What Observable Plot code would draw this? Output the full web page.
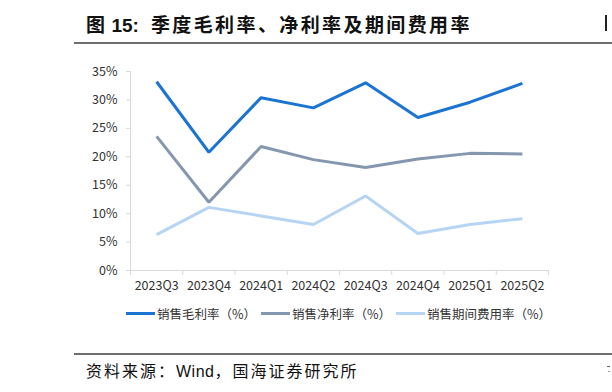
<!DOCTYPE html>
<html>
<head>
<meta charset="utf-8">
<script src="https://cdn.jsdelivr.net/npm/d3@7"></script>
<script src="https://cdn.jsdelivr.net/npm/@observablehq/plot@0.6"></script>
<style>
  html, body { margin: 0; padding: 0; background: #fff; }
  #page { position: relative; width: 612px; height: 392px; overflow: hidden; font-family: "Noto Sans CJK SC", "Noto Sans", sans-serif; }
  .title { position: absolute; left: 86px; top: 10px; font-size: 19px; font-weight: 700; color: #111; white-space: nowrap; letter-spacing: 2.4px; }
  .title .num { font-family: "Liberation Sans", Arial, sans-serif; font-weight: 700; letter-spacing: 0; margin-left: 4px; margin-right: 12px; }
  .rule { position: absolute; left: 74px; width: 560px; height: 2px; background: #6e6e6e; }
  .footer { position: absolute; left: 86px; top: 358px; font-size: 16px; color: #111; white-space: nowrap; letter-spacing: 2px; }
  .footer .w { font-family: "Liberation Sans", Arial, sans-serif; letter-spacing: 0.5px; }
  .stub { position: absolute; background: #222; }
  #chart { position: absolute; left: 0; top: 50px; }
  .legend { position: absolute; left: 126px; top: 304px; display: flex; align-items: center; font-size: 12.5px; color: #333; white-space: nowrap; }
  .legend .item { display: flex; align-items: center; margin-right: 5px; }
  .legend .sw { width: 29px; height: 3px; margin-right: 2px; }
</style>
</head>
<body>
<div id="page">
  <div class="title">图<span class="num">15:</span>季度毛利率、净利率及期间费用率</div>
  <div class="stub" style="left:605px; top:15px; width:2px; height:16px;"></div>
  <div class="rule" style="top:42px;"></div>
  <div id="chart"></div>
  <div class="legend" id="legend"></div>
  <div class="rule" style="top:353px;"></div>
  <div class="footer">资料来源：<span class="w">Wind</span>，国海证券研究所</div>
  <div class="stub" style="left:607px; top:366px; width:3px; height:1px; background:#666;"></div>
  <div class="stub" style="left:608px; top:371px; width:2px; height:1px; background:#999;"></div>
</div>
<script>
const quarters = ["2023Q3", "2023Q4", "2024Q1", "2024Q2", "2024Q3", "2024Q4", "2025Q1", "2025Q2"];
const grossMargin = [33.2, 20.8, 30.4, 28.6, 33.0, 26.9, 29.6, 32.9];
const netMargin   = [23.6, 12.0, 21.8, 19.5, 18.1, 19.6, 20.6, 20.5];
const expenseRate = [6.3, 11.1, 9.6, 8.1, 13.1, 6.5, 8.1, 9.1];
const seriesNames = ["销售毛利率（%）", "销售净利率（%）", "销售期间费用率（%）"];
const seriesColors = ["#1b74d3", "#8596af", "#b6d5f5"];
const yTicks = [0, 5, 10, 15, 20, 25, 30, 35];

const allSeries = [grossMargin, netMargin, expenseRate];
const rows = [];
allSeries.forEach((vals, s) => vals.forEach((v, i) => rows.push({i, quarter: quarters[i], series: seriesNames[s], value: v})));

const boundaries = d3.range(0, quarters.length + 1);
const centers = quarters.map((q, i) => i + 0.5);

const chart = Plot.plot({
  width: 612,
  height: 250,
  marginLeft: 130,
  marginRight: 64,
  marginTop: 21,
  marginBottom: 30,
  style: {fontFamily: "'Noto Sans CJK SC', 'Noto Sans', sans-serif", fontSize: "12px", color: "#333", background: "transparent"},
  x: {type: "linear", domain: [0, quarters.length], axis: null},
  y: {domain: [0, 35], axis: null},
  color: {domain: seriesNames, range: seriesColors},
  marks: [
    Plot.ruleX([0], {y1: 0, y2: 35, stroke: "#d9d9d9"}),
    Plot.ruleY([0], {stroke: "#d9d9d9"}),
    Plot.axisX(boundaries, {tickSize: 5, tickFormat: () => "", stroke: "#d9d9d9", label: null}),
    Plot.axisX(centers, {tickSize: 0, tickPadding: 11, tickFormat: d => quarters[Math.floor(d)], fontSize: 12.5, fill: "#333", label: null}),
    Plot.axisY(yTicks, {tickSize: 4, tickPadding: 9, tickFormat: d => d + "%", stroke: "#d9d9d9", fontSize: 12.5, fill: "#333", label: null}),
    Plot.line(rows, {x: d => d.i + 0.5, y: "value", z: "series", stroke: "series", strokeWidth: 3, strokeLinejoin: "miter", strokeLinecap: "butt"})
  ]
});
document.getElementById("chart").appendChild(chart);

const legend = document.getElementById("legend");
seriesNames.forEach((name, k) => {
  const item = document.createElement("div");
  item.className = "item";
  const sw = document.createElement("span");
  sw.className = "sw";
  sw.style.background = seriesColors[k];
  const label = document.createElement("span");
  label.textContent = name;
  item.appendChild(sw);
  item.appendChild(label);
  legend.appendChild(item);
});
</script>
</body>
</html>
